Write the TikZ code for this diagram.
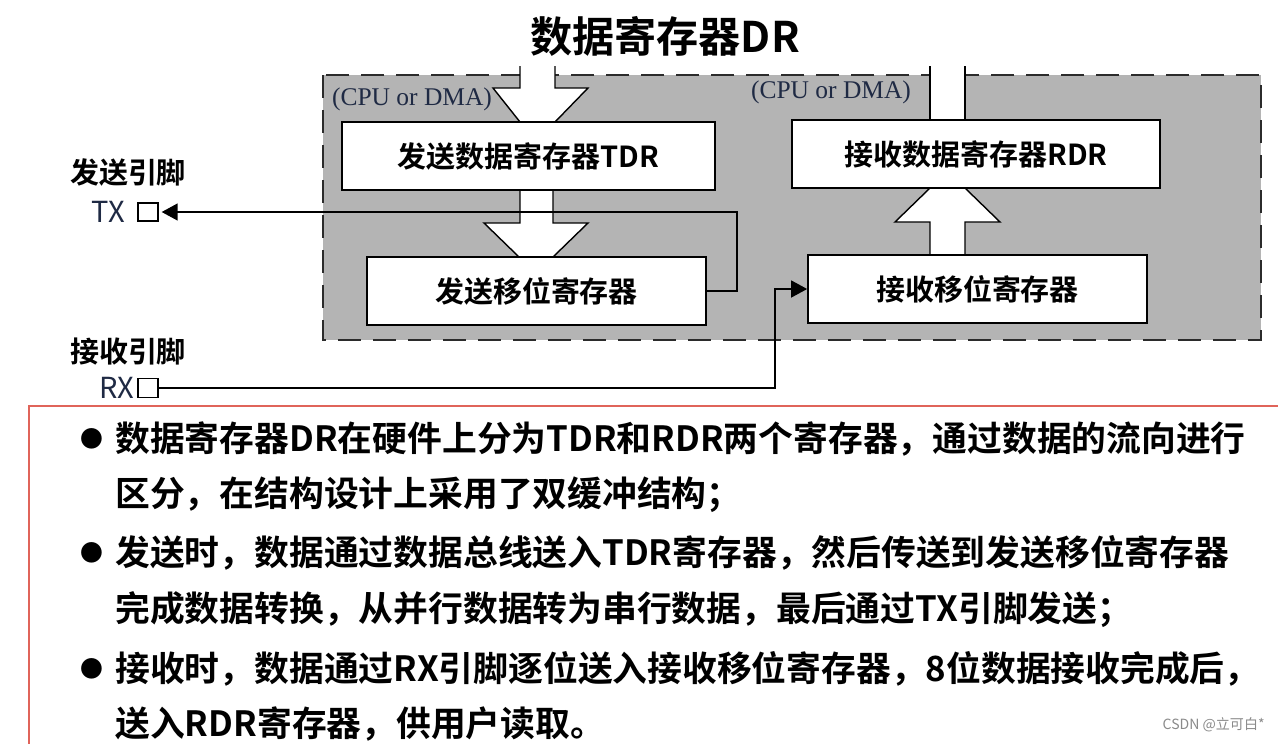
\documentclass[tikz,border=0pt]{standalone}
\usepackage{fontspec}
\setmainfont{Noto Sans CJK SC}[BoldFont={Noto Sans CJK SC Bold}]
\newfontfamily\cpufont{Liberation Serif}
\usepackage{tikz}
\usetikzlibrary{arrows.meta,positioning}
\definecolor{areac}{HTML}{B4B4B4}
\definecolor{edgec}{HTML}{2B2B2B}
\definecolor{pinc}{HTML}{1F2A44}
\definecolor{framec}{HTML}{E0645A}
\definecolor{markc}{HTML}{8A8A8A}
\tikzset{
  title/.style   ={font=\fontsize{24}{28}\selectfont\bfseries,inner sep=0pt},
  area/.style    ={draw=edgec,line width=1.1pt,dash pattern=on 0.46cm off 0.24cm},
  reg/.style     ={draw,line width=1pt,fill=white,inner sep=0pt,minimum height=1.36cm,
                   font=\fontsize{16.5}{20}\selectfont\bfseries},
  funnel/.style  ={draw,line width=0.8pt,fill=white},
  cpu/.style     ={font=\cpufont\fontsize{14.5}{17}\selectfont,text=pinc,inner sep=0pt},
  pin/.style     ={draw,line width=0.8pt,fill=white,minimum width=0.4cm,
                   minimum height=0.36cm,inner sep=0pt},
  pinname/.style ={font=\fontsize{16.5}{20}\selectfont,text=pinc,inner sep=0pt},
  pintitle/.style={font=\fontsize{16.5}{20}\selectfont\bfseries,inner sep=0pt},
  wire/.style    ={line width=0.8pt,-{Triangle[length=0.32cm,width=0.34cm]}},
  frame/.style   ={draw=framec,line width=1.2pt},
  bul/.style     ={font=\fontsize{13}{15}\selectfont,inner sep=0pt},
  note/.style    ={font=\fontsize{19.8}{24}\selectfont\bfseries,anchor=west,inner sep=0pt},
}
\begin{document}
\begin{tikzpicture}[x=0.02cm,y=-0.02cm]
  \useasboundingbox (0,0) rectangle (1278,744);
  % title
  \node[title] (ttl) at (665,36) {数据寄存器DR};

  % data register area
  \fill[areac] (323,75) rectangle (1261,340);
  \draw[area] (323,75) rectangle (1261,340);

  % block arrows (bus -> TDR -> shift, shift -> RDR -> bus)
  \filldraw[funnel] (520,66) -- (520,88) -- (493,88) -- (520,122) -- (555,122)
                    -- (588,88) -- (555,88) -- (555,66);
  \filldraw[funnel] (520,190) -- (520,223) -- (484,223) -- (519,257) -- (553,257)
                    -- (588,223) -- (553,223) -- (553,190);
  \filldraw[funnel] (930,66) -- (930,120) -- (965,120) -- (965,66);
  \filldraw[funnel] (930,254) -- (930,222) -- (895,222) -- (930,188) -- (965,188)
                    -- (1000,222) -- (965,222) -- (965,254);
  \node[cpu] (cpul) at (412,99) {(CPU or DMA)};
  \node[cpu] (cpur) at (831,92) {(CPU or DMA)};

  % registers
  \node[reg,minimum width=7.46cm] (tdr) at (528.5,156) {发送数据寄存器TDR};
  \node[reg,minimum width=6.78cm] (tsr) at (536.5,291) {发送移位寄存器};
  \node[reg,minimum width=7.36cm] (rdr) at (976,154)   {接收数据寄存器RDR};
  \node[reg,minimum width=6.78cm] (rsr) at (977.5,289) {接收移位寄存器};

  % pins
  \node[pin] (txpin) at (148,212) {};
  \node[pinname,left=0.24cm of txpin] (txname) {TX};
  \node[pintitle] (txttl) at (128,172) {发送引脚};
  \node[pin,minimum height=0.38cm] (rxpin) at (148,388) {};
  \node[pinname,left=0.06cm of rxpin] (rxname) {RX};
  \node[pintitle] (rxttl) at (128,352) {接收引脚};

  % serial lines
  \coordinate (txbend) at (737,291);
  \coordinate (rxbend) at (775,388);
  \draw[wire,shorten >=0.06cm] (tsr.east) -- (txbend) |- (txpin.east);
  \draw[wire] (rxpin.east) -- (rxbend) |- (rsr.west);

  % notes
  \draw[frame] (1278,406) -- (29,406) -- (29,744);
  \node[bul] (b1) at (92,439) {●};
  \node[bul] (b2) at (92,553) {●};
  \node[bul] (b3) at (92,669) {●};
  \node[note] (n1) at (115,439) {数据寄存器DR在硬件上分为TDR和RDR两个寄存器，通过数据的流向进行};
  \node[note] (n2) at (115,495) {区分，在结构设计上采用了双缓冲结构；};
  \node[note] (n3) at (115,553) {发送时，数据通过数据总线送入TDR寄存器，然后传送到发送移位寄存器};
  \node[note] (n4) at (115,610) {完成数据转换，从并行数据转为串行数据，最后通过TX引脚发送；};
  \node[note] (n5) at (115,669) {接收时，数据通过RX引脚逐位送入接收移位寄存器，8位数据接收完成后，};
  \node[note] (n6) at (115,724) {送入RDR寄存器，供用户读取。};
  \node[font=\fontsize{8}{10}\selectfont,text=markc,anchor=east,inner sep=0pt] (csdn)
    at (1265,725) {CSDN @立可白*};
\end{tikzpicture}
\end{document}
